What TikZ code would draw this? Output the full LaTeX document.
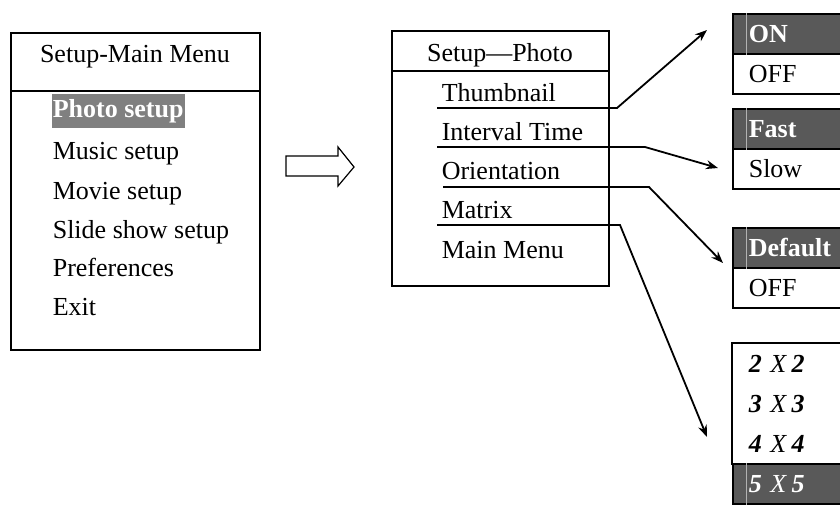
\documentclass[tikz,border=0pt]{standalone}
\usepackage{fontspec}
\setmainfont{Liberation Serif}
\usetikzlibrary{arrows.meta}
\definecolor{darkcell}{rgb}{0.35,0.35,0.35}
\definecolor{hilite}{rgb}{0.50,0.50,0.50}

\begin{document}
\begin{tikzpicture}[x=1pt, y=-1pt, line width=1.6pt,
  font=\fontsize{26}{30}\selectfont,
  entry/.style={anchor=base west, inner sep=0pt},
  cell/.style={anchor=north west, minimum height=40pt, inner xsep=16pt,
    text width=98pt, align=left, text height=17pt, text depth=0pt},
  boxcell/.style={cell, draw},
  darkcell/.style={cell, draw, fill=darkcell, text=white},
  pointer/.style={line width=1.8pt, -{Stealth[length=12pt, width=9pt]}}]
\clip (0,0) rectangle (840,504);
%		\draw[help lines, step=20] (0,0) grid (840,504);

% main menu
\draw (11,33) rectangle (260,350);
\draw (11,91) -- (260,91);
\node[anchor=base] (mainTitle) at (135,62) {Setup-Main Menu};
\node[entry, fill=hilite, text=white, inner xsep=1pt, inner ysep=4pt,
  text height=19pt, text depth=7pt] (photo) at (51,117) {\textbf{Photo setup}};
\node[entry] (music) at (52,159) {Music setup};
\node[entry] (movie) at (52,199) {Movie setup};
\node[entry] (slide) at (52,238) {Slide show setup};
\node[entry] (pref) at (52,276) {Preferences};
\node[entry] (exit) at (52,315) {Exit};

% hollow arrow
\draw[line width=1.2pt] (286,156) -- (338,156) -- (338,147) -- (354,167)
  -- (338,186) -- (338,176) -- (286,176) -- cycle;

% photo menu
\draw (392,31) rectangle (609,286);
\draw (392,71) -- (609,71);
\node[anchor=base] (photoTitle) at (500,61) {Setup---Photo};
\node[entry] (thumb) at (441,101) {Thumbnail};
\node[entry] (interval) at (441,140) {Interval Time};
\node[entry] (orient) at (441,179) {Orientation};
\node[entry] (matrix) at (441,218) {Matrix};
\node[entry] (back) at (441,258) {Main Menu};

% option boxes
\node[darkcell] (on) at (732,13) {\textbf{ON}};
\node[boxcell] (off) at (732,53) {OFF};
\node[darkcell] (fast) at (732,108) {\textbf{Fast}};
\node[boxcell] (slow) at (732,148) {Slow};
\node[darkcell] (default) at (732,227) {\textbf{Default}};
\node[boxcell] (offB) at (732,267) {OFF};
\node[cell] (mTwo) at (732,343) {\textbf{\textit{2}} \textit{X}\,\textbf{\textit{2}}};
\node[cell] (mThree) at (732,383) {\textbf{\textit{3}} \textit{X}\,\textbf{\textit{3}}};
\node[cell] (mFour) at (732,423) {\textbf{\textit{4}} \textit{X}\,\textbf{\textit{4}}};
\node[darkcell] (mFive) at (732,463) {\textbf{\textit{5}} \textit{X}\,\textbf{\textit{5}}};
\draw (mTwo.north west) rectangle (mFour.south east);
\foreach \c in {on, fast, default, mFive}
  \draw[line width=0.5pt, gray!60!white] ([xshift=14pt]\c.north west) -- ([xshift=14pt]\c.south west);

% connectors
\coordinate (thumbL) at (437,108);
\coordinate (thumbB) at (617,108);
\coordinate (thumbT) at (707,30);
\coordinate (intL) at (437,147);
\coordinate (intB) at (645,147);
\coordinate (intT) at (718,168);
\coordinate (oriL) at (443,187);
\coordinate (oriB) at (649,187);
\coordinate (oriT) at (723,263);
\coordinate (matL) at (437,225);
\coordinate (matB) at (620,225);
\coordinate (matT) at (707,437);
\draw[pointer] (thumbL) -- (thumbB) -- (thumbT);
\draw[pointer] (intL) -- (intB) -- (intT);
\draw[pointer] (oriL) -- (oriB) -- (oriT);
\draw[pointer] (matL) -- (matB) -- (matT);
\end{tikzpicture}
\end{document}
